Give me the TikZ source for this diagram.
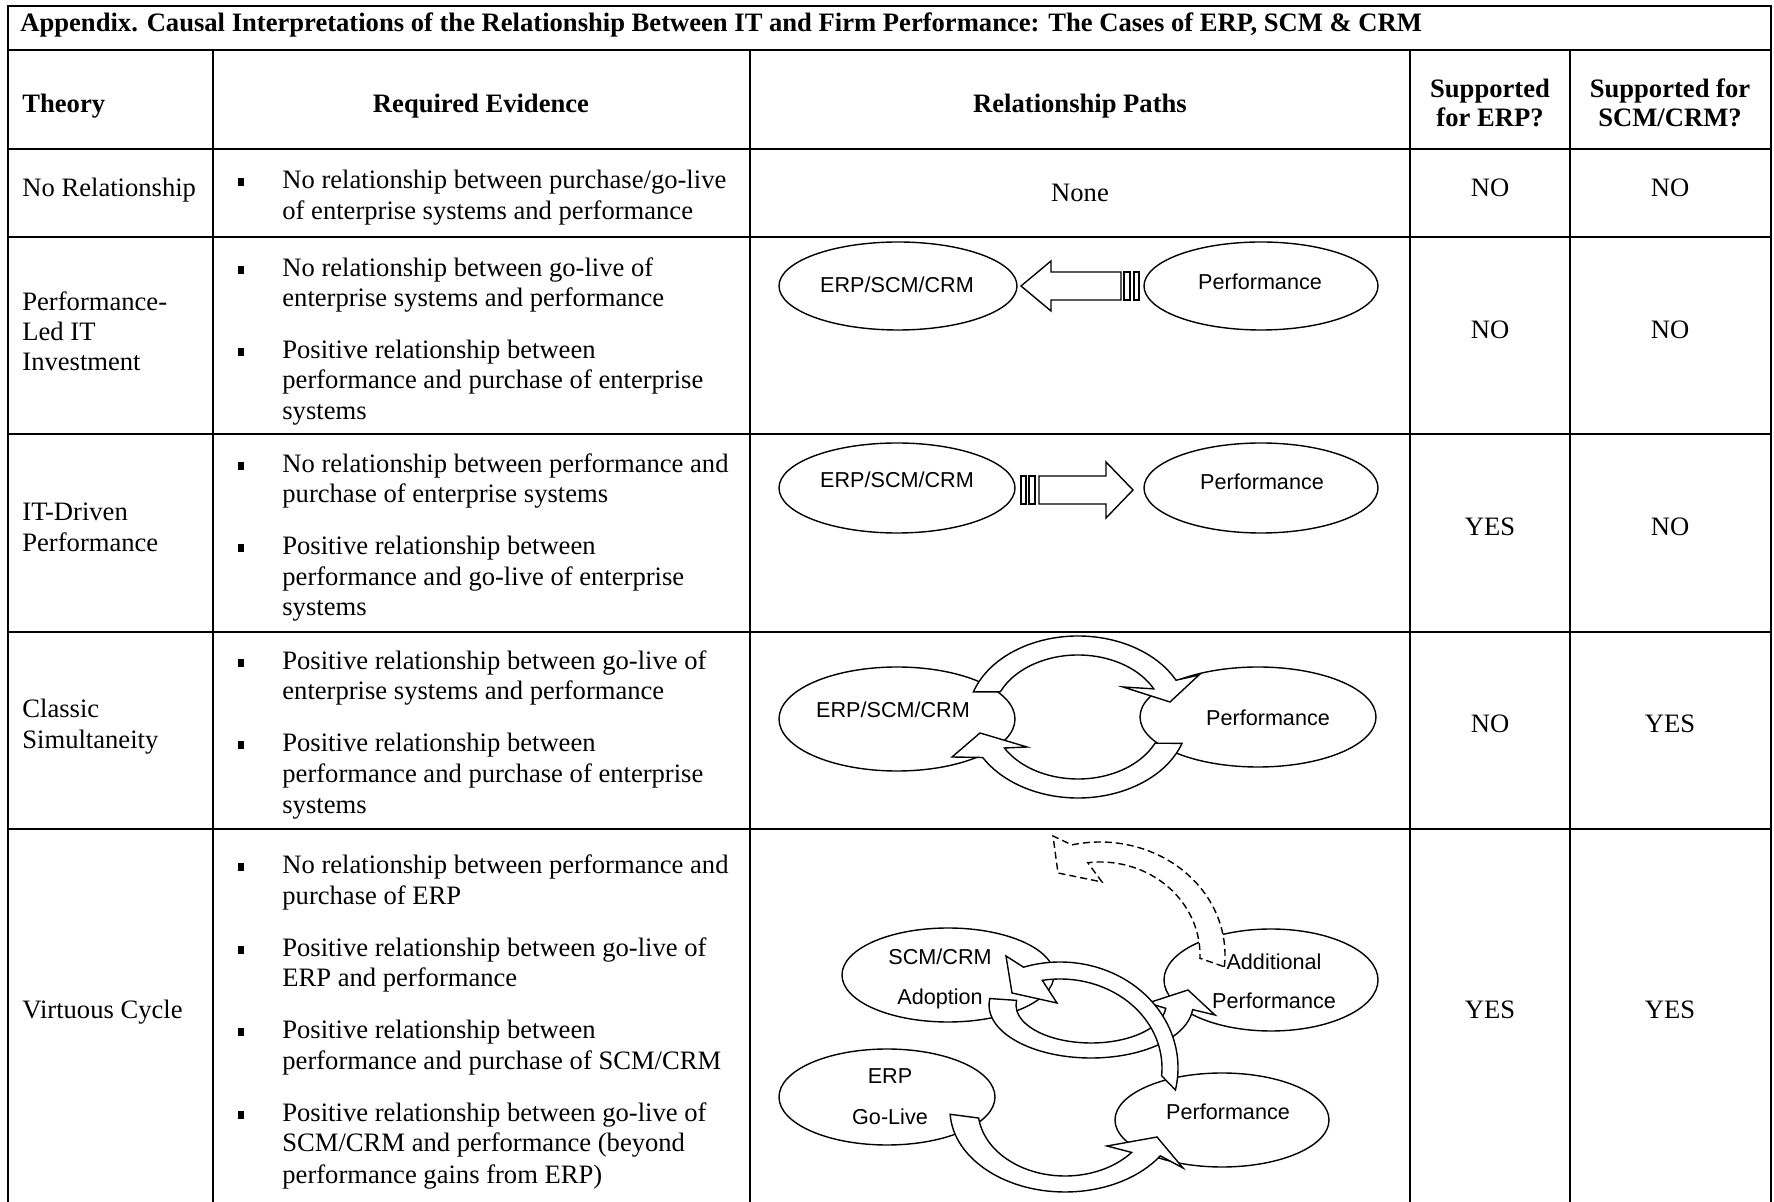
\documentclass[tikz,border=0pt]{standalone}
\usepackage{fontspec}
\setmainfont{Liberation Serif}
\newfontfamily\arialfont{Liberation Sans}
\usetikzlibrary{calc,shapes.geometric}
\begin{document}
\begin{tikzpicture}[x=0.5pt,y=-0.5pt,
  rule/.style={line width=1.2pt},
  txt/.style={font=\fontsize{13.3}{15.3}\selectfont,inner sep=0pt,anchor=base west},
  ctxt/.style={font=\fontsize{13.3}{15.3}\selectfont,inner sep=0pt,anchor=base},
  htxt/.style={font=\bfseries\fontsize{13.3}{15.3}\selectfont,inner sep=0pt,anchor=base},
  bul/.style={fill=black,minimum width=3.2pt,minimum height=3.7pt,inner sep=0pt,outer sep=0pt},
  oval/.style={ellipse,draw,line width=0.7pt,inner sep=0pt},
  lbl/.style={font=\arialfont\fontsize{10.8}{12}\selectfont,inner sep=0pt,anchor=base},
  barrow/.style={draw,fill=white,line width=0.7pt,line join=miter},
  darrow/.style={barrow,dash pattern=on 3.5pt off 2pt}
]
\useasboundingbox (0,0) rectangle (1774,1202);

% ---------- table rules ----------
\draw[rule] (8,1202) -- (8,6) -- (1771,6) -- (1771,1202);
\foreach \yy in {50,149,237,434,632,829} \draw[rule] (8,\yy) -- (1771,\yy);
\foreach \xx in {213,750,1410,1570} \draw[rule] (\xx,50) -- (\xx,1202);

% ---------- title and header ----------
\node[htxt,anchor=base west] (title) at (20,32) {Appendix. Causal Interpretations of the Relationship Between IT and Firm Performance: The Cases of ERP, SCM \& CRM};
\node[htxt,anchor=base west] (hTheory) at (22,113) {Theory};
\node[htxt] (hEvid) at (481,113) {Required Evidence};
\node[htxt] (hPaths) at (1080,113) {Relationship Paths};
\node[htxt] (hErpA) at (1490,98) {Supported};
\node[htxt] (hErpB) at (1490,127) {for ERP?};
\node[htxt] (hScmA) at (1670,98) {Supported for};
\node[htxt] (hScmB) at (1670,127) {SCM/CRM?};

% ---------- theory column ----------
\node[txt] (t1) at (22,197) {No Relationship};
\node[txt] (t2a) at (22,311) {Performance-};
\node[txt] (t2b) at (22,341) {Led IT};
\node[txt] (t2c) at (22,371) {Investment};
\node[txt] (t3a) at (22,521) {IT-Driven};
\node[txt] (t3b) at (22,552) {Performance};
\node[txt] (t4a) at (22,718) {Classic};
\node[txt] (t4b) at (22,749) {Simultaneity};
\node[txt] (t5) at (22,1019) {Virtuous Cycle};

% ---------- required evidence ----------
\newcommand\bulletat[2]{\node[bul] (#1) at (241,#2-7) {};}
\newcommand\evline[3]{\node[txt] (#1) at (282,#2) {#3};}
\bulletat{b1}{189}
\evline{e1a}{189}{No relationship between purchase/go-live}
\evline{e1b}{220}{of enterprise systems and performance}
\bulletat{b2}{277}
\evline{e2a}{277}{No relationship between go-live of}
\evline{e2b}{307}{enterprise systems and performance}
\bulletat{b3}{359}
\evline{e3a}{359}{Positive relationship between}
\evline{e3b}{389}{performance and purchase of enterprise}
\evline{e3c}{420}{systems}
\bulletat{b4}{473}
\evline{e4a}{473}{No relationship between performance and}
\evline{e4b}{503}{purchase of enterprise systems}
\bulletat{b5}{555}
\evline{e5a}{555}{Positive relationship between}
\evline{e5b}{586}{performance and go-live of enterprise}
\evline{e5c}{616}{systems}
\bulletat{b6}{670}
\evline{e6a}{670}{Positive relationship between go-live of}
\evline{e6b}{700}{enterprise systems and performance}
\bulletat{b7}{752}
\evline{e7a}{752}{Positive relationship between}
\evline{e7b}{783}{performance and purchase of enterprise}
\evline{e7c}{814}{systems}
\bulletat{b8}{874}
\evline{e8a}{874}{No relationship between performance and}
\evline{e8b}{905}{purchase of ERP}
\bulletat{b9}{957}
\evline{e9a}{957}{Positive relationship between go-live of}
\evline{e9b}{987}{ERP and performance}
\bulletat{b10}{1039}
\evline{e10a}{1039}{Positive relationship between}
\evline{e10b}{1070}{performance and purchase of SCM/CRM}
\bulletat{b11}{1122}
\evline{e11a}{1122}{Positive relationship between go-live of}
\evline{e11b}{1152}{SCM/CRM and performance (beyond}
\evline{e11c}{1183}{performance gains from ERP)}

% ---------- supported columns ----------
\node[ctxt] (n1) at (1080,202) {None};
\node[ctxt] (s1a) at (1490,197) {NO};   \node[ctxt] (s1b) at (1670,197) {NO};
\node[ctxt] (s2a) at (1490,339) {NO};   \node[ctxt] (s2b) at (1670,339) {NO};
\node[ctxt] (s3a) at (1490,536) {YES};  \node[ctxt] (s3b) at (1670,536) {NO};
\node[ctxt] (s4a) at (1490,733) {NO};   \node[ctxt] (s4b) at (1670,733) {YES};
\node[ctxt] (s5a) at (1490,1019) {YES}; \node[ctxt] (s5b) at (1670,1019) {YES};

% ---------- row 2: performance-led IT investment ----------
\node[oval,minimum width=119pt,minimum height=44pt] (erp2) at (898,286) {};
\node[oval,minimum width=117pt,minimum height=44pt] (perf2) at (1261,286) {};
\draw[barrow] (1021,286) -- (1051,261) -- (1051,272) -- (1121,272) -- (1121,300) -- (1051,300) -- (1051,311) -- cycle;
\draw[barrow] (1124,272) rectangle (1130,300);
\draw[barrow] (1134,272) rectangle (1139,300);
\node[lbl] (erp2l) at (897,293) {ERP/SCM/CRM};
\node[lbl] (perf2l) at (1260,290) {Performance};

% ---------- row 3: IT-driven performance ----------
\node[oval,minimum width=118pt,minimum height=45pt] (erp3) at (897,488) {};
\node[oval,minimum width=117pt,minimum height=45pt] (perf3) at (1261,488) {};
\draw[barrow] (1021,476) rectangle (1026,504);
\draw[barrow] (1029,476) rectangle (1035,504);
\draw[barrow] (1039,476) -- (1106,476) -- (1106,462) -- (1133,490) -- (1106,518) -- (1106,504) -- (1039,504) -- cycle;
\node[lbl] (erp3l) at (897,488) {ERP/SCM/CRM};
\node[lbl] (perf3l) at (1262,490) {Performance};

% ---------- row 4: classic simultaneity ----------
\node[oval,minimum width=118pt,minimum height=52pt] (erp4) at (897,719) {};
\node[oval,minimum width=118pt,minimum height=50pt] (perf4) at (1258,717) {};
\coordinate (c4) at (1078,717);
\draw[barrow] ($(c4)+(198:110 and 81)$) arc[start angle=198,end angle=333,x radius=110,y radius=81]
  -- (1199,675) -- (1170,702) -- (1123,687)
  -- ($(c4)+(333:85 and 62)$) arc[start angle=333,end angle=204,x radius=85,y radius=62] -- cycle;
\draw[barrow] ($(c4)+(19:110 and 81)$) arc[start angle=19,end angle=150,x radius=110,y radius=81]
  -- (952,757) -- (980,733) -- (1027,747)
  -- ($(c4)+(150:85 and 62)$) arc[start angle=150,end angle=25,x radius=85,y radius=62] -- cycle;
\node[lbl] (erp4l) at (893,718) {ERP/SCM/CRM};
\node[lbl] (perf4l) at (1268,726) {Performance};

% ---------- row 5: virtuous cycle ----------
\node[oval,minimum width=106pt,minimum height=47pt] (scm5) at (948,975) {};
\node[oval,minimum width=107pt,minimum height=51pt] (add5) at (1271,980) {};
\node[oval,minimum width=108pt,minimum height=48pt] (erp5) at (887,1097) {};
\node[oval,minimum width=107pt,minimum height=47pt] (perf5) at (1222,1120) {};
% SCM/CRM adoption -> additional performance
\coordinate (cA) at (1091,1005);
\draw[barrow] ($(cA)+(187:102 and 53)$) arc[start angle=187,end angle=5,x radius=102,y radius=53]
  -- (1215,1015) -- (1188,990) -- (1148,1003)
  -- ($(cA)+(5:75 and 38)$) arc[start angle=5,end angle=187,x radius=75,y radius=38] -- cycle;
% ERP go-live -> performance
\coordinate (cC) at (1065,1110);
\draw[barrow] ($(cC)+(177:115 and 82)$) arc[start angle=177,end angle=34,x radius=115,y radius=82]
  -- (1183,1168) -- (1157,1137) -- (1107,1146)
  -- ($(cC)+(40:87 and 66)$) arc[start angle=40,end angle=173,x radius=87,y radius=66] -- cycle;
% performance -> SCM/CRM adoption
\coordinate (cB) at (1060,1068);
\draw[barrow] ($(cB)+(12:118 and 106)$) arc[start angle=12,end angle=-108,x radius=118,y radius=106]
  -- (1006,956) -- (1012,993) -- (1057,1003)
  -- ($(cB)+(-100:102 and 89)$) arc[start angle=-100,end angle=5,x radius=102,y radius=89] -- cycle;
% additional performance -> (next cycle), dashed
\coordinate (cD) at (1100,955);
\draw[darrow] ($(cD)+(6:125 and 113)$) arc[start angle=6,end angle=-103,x radius=125,y radius=113]
  -- (1053,836) -- (1058,873) -- (1102,882)
  -- ($(cD)+(-97:100 and 93)$) arc[start angle=-97,end angle=2,x radius=100,y radius=93] -- cycle;
\node[lbl] (scm5a) at (940,965) {SCM/CRM};
\node[lbl] (scm5b) at (940,1005) {Adoption};
\node[lbl] (add5a) at (1274,970) {Additional};
\node[lbl] (add5b) at (1274,1009) {Performance};
\node[lbl] (erp5a) at (890,1084) {ERP};
\node[lbl] (erp5b) at (890,1124) {Go-Live};
\node[lbl] (perf5l) at (1228,1120) {Performance};
\end{tikzpicture}
\end{document}
